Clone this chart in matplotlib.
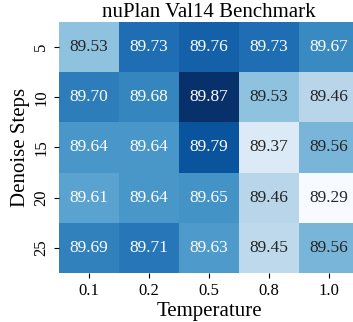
import numpy as np
import pandas as pd
import matplotlib
matplotlib.use("Agg")
import matplotlib.pyplot as plt
import seaborn as sns

plt.rcParams['font.family'] = ['Liberation Serif', 'DejaVu Serif']

## data
temperatures = ["0.1", "0.2", "0.5", "0.8", "1.0"]
denoise_steps = ["5", "10", "15", "20", "25"]
scores = [
    [89.53, 89.73, 89.76, 89.73, 89.67],
    [89.70, 89.68, 89.87, 89.53, 89.46],
    [89.64, 89.64, 89.79, 89.37, 89.56],
    [89.61, 89.64, 89.65, 89.46, 89.29],
    [89.69, 89.71, 89.63, 89.45, 89.56],
]

df = pd.DataFrame(scores, index=denoise_steps, columns=temperatures)

fig = plt.figure(figsize=(3.53, 3.22), dpi=100)
ax = fig.add_axes([0.167, 0.152, 0.85, 0.78])

sns.heatmap(df, ax=ax, cmap="Blues", annot=True, fmt=".2f", cbar=False,
            annot_kws={"size": 12.5})

ax.set_title("nuPlan Val14 Benchmark", fontsize=15, pad=2)
ax.set_xlabel("Temperature", fontsize=15, labelpad=2)
ax.set_ylabel("Denoise Steps", fontsize=15, labelpad=2)
ax.tick_params(axis='both', labelsize=12)
plt.setp(ax.get_yticklabels(), rotation=90, va="center")

fig.savefig("out.png", dpi=100)
